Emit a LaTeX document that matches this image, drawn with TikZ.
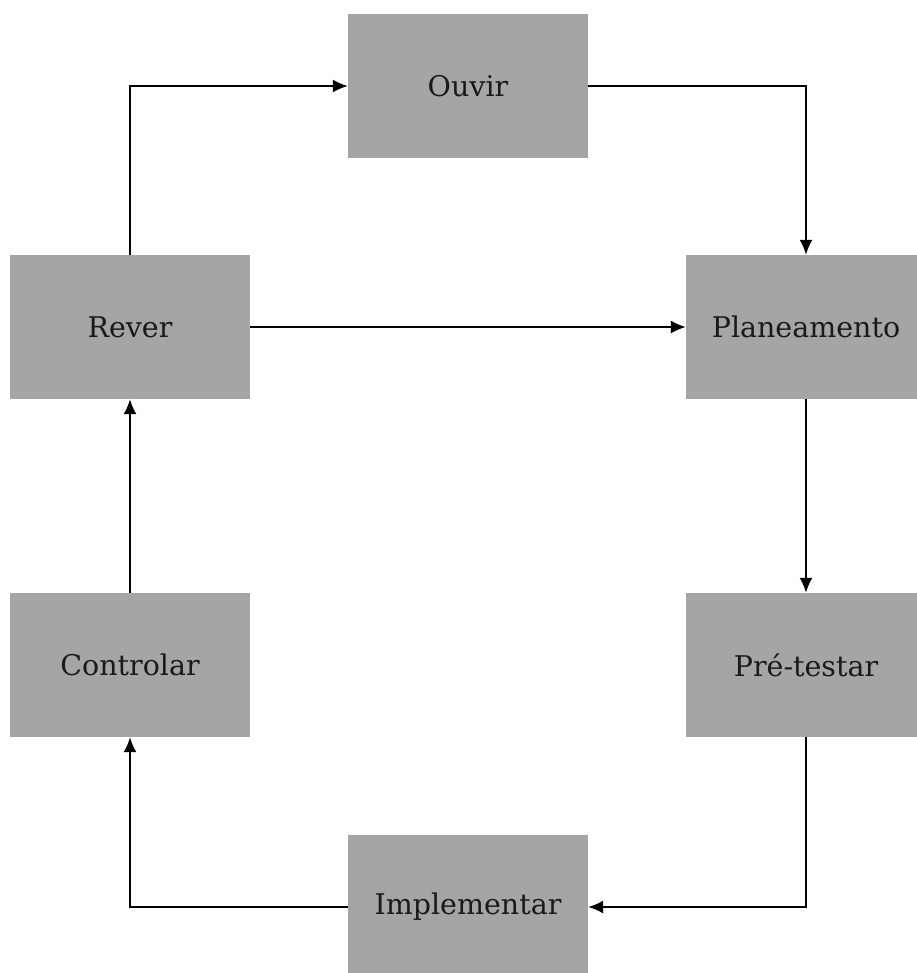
\documentclass[tikz,border=0pt]{standalone}
\usepackage{fontspec}
\setmainfont{DejaVu Serif}
\usetikzlibrary{arrows.meta}
\definecolor{boxgray}{HTML}{A5A5A5}
\definecolor{txt}{HTML}{1A1A1A}
\begin{document}
\begin{tikzpicture}[x=1pt,y=-1pt,
  stepbox/.style={rectangle,fill=boxgray,minimum width=240pt,minimum height=144pt,inner sep=0pt,text=txt,font=\fontsize{28.5}{34}\selectfont},
  conn/.style={line width=1.8pt,-{Latex[length=15pt,width=13pt]}}]
\useasboundingbox (0,0) rectangle (916,973);
\node[stepbox] (ouvir) at (468,86) {Ouvir};
\node[stepbox] (plan) at (806,327) {Planeamento};
\node[stepbox] (rever) at (130,327) {Rever};
\node[stepbox] (pre) at (806,665) {Pré-testar};
\node[stepbox] (ctrl) at (130,665) {Controlar};
\node[stepbox] (impl) at (468,907) {Implementar};
\draw[conn] (rever.north) |- (ouvir.west);
\draw[conn] (ouvir.east) -| (plan.north);
\draw[conn] (rever.east) -- (plan.west);
\draw[conn] (plan.south) -- (pre.north);
\draw[conn] (pre.south) |- (impl.east);
\draw[conn] (impl.west) -| (ctrl.south);
\draw[conn] (ctrl.north) -- (rever.south);
\end{tikzpicture}
\end{document}
